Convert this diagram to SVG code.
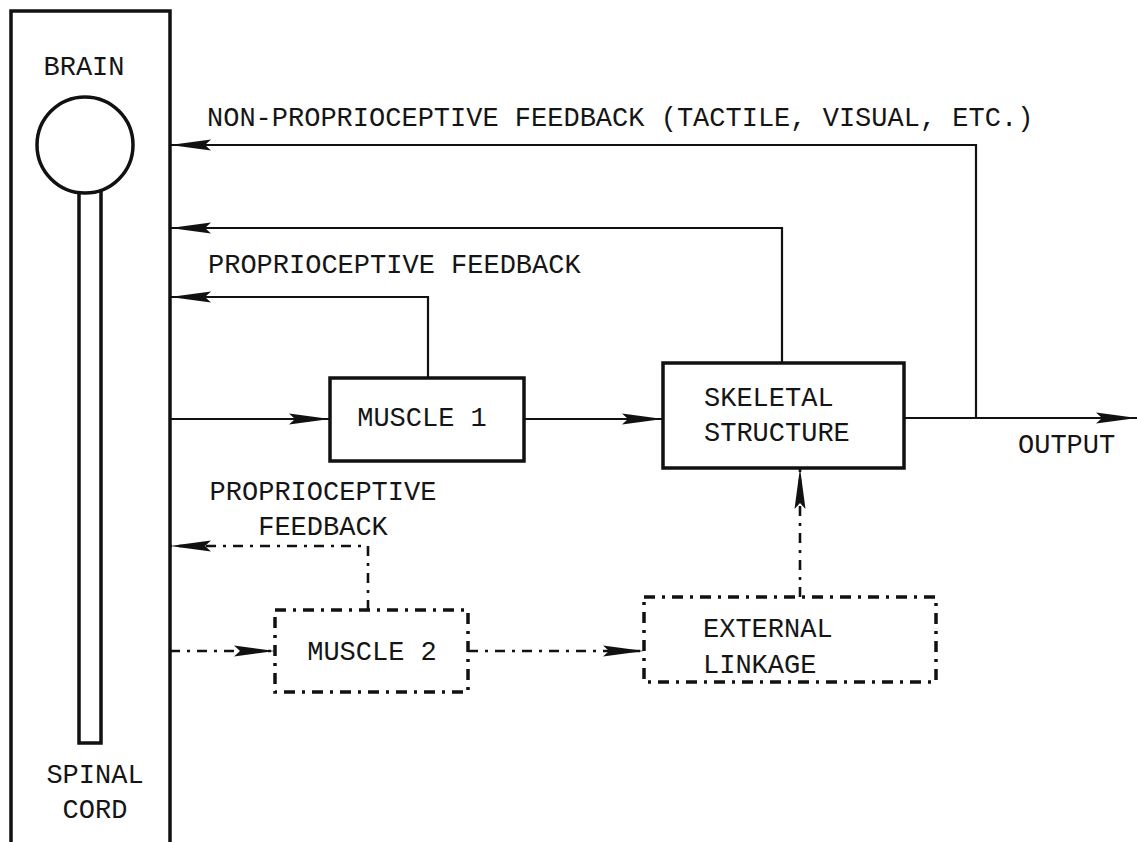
<svg xmlns="http://www.w3.org/2000/svg" width="1137" height="842" viewBox="0 0 1137 842">
  <style>
    .lbl { font-family: "Liberation Mono", "Courier New", monospace; font-size: 27px; fill: #151515; }
    .box { fill: none; stroke: #111; stroke-width: 3.5; }
    .dbox { fill: none; stroke: #111; stroke-width: 3.5; stroke-dasharray: 11 7 3 7; }
    .wire { fill: none; stroke: #111; stroke-width: 2.2; marker-end: url(#head); }
    .plain { fill: none; stroke: #111; stroke-width: 2.2; }
    .dwire { fill: none; stroke: #111; stroke-width: 2.6; stroke-dasharray: 10 7 3 7; marker-end: url(#head); }
  </style>
  <defs>
    <marker id="head" markerUnits="userSpaceOnUse" viewBox="0 -7 42 14" refX="41" refY="0" markerWidth="42" markerHeight="14" orient="auto">
      <path d="M0,-5.5 L41,0 L0,5.5 L6,0 Z" fill="#111"/>
    </marker>
  </defs>

  <!-- central nervous system column -->
  <g id="cns">
    <path class="box" d="M11,845 V11 H170 V845"/>
    <path class="box" d="M79,185 V743 H101 V185"/>
    <circle cx="85" cy="145" r="48" fill="#fff" stroke="#111" stroke-width="3.5"/>
    <text class="lbl" x="84" y="75" text-anchor="middle">BRAIN</text>
    <text class="lbl" x="95" y="783" text-anchor="middle">SPINAL</text>
    <text class="lbl" x="95" y="818" text-anchor="middle">CORD</text>
  </g>

  <g id="muscle1">
    <rect class="box" x="330" y="378" width="194" height="83"/>
    <text class="lbl" x="422" y="426" text-anchor="middle">MUSCLE 1</text>
  </g>

  <g id="skeletal">
    <rect class="box" x="663" y="363" width="241" height="105"/>
    <text class="lbl" x="704" y="406">SKELETAL</text>
    <text class="lbl" x="704" y="441">STRUCTURE</text>
  </g>

  <g id="muscle2">
    <rect class="dbox" x="275" y="610" width="193" height="82"/>
    <text class="lbl" x="372" y="660" text-anchor="middle">MUSCLE 2</text>
  </g>

  <g id="linkage">
    <rect class="dbox" x="644" y="597" width="292" height="85"/>
    <text class="lbl" x="703" y="637">EXTERNAL</text>
    <text class="lbl" x="703" y="673">LINKAGE</text>
  </g>

  <g id="connectors">
    <path class="wire" d="M976,418 V145 H170"/>
    <path class="wire" d="M782,363 V228 H170"/>
    <path class="wire" d="M428,378 V297 H170"/>
    <path class="wire" d="M170,419 H330"/>
    <path class="wire" d="M524,419 H663"/>
    <path class="wire" d="M904,418 H1137"/>
    <path class="dwire" d="M368,610 V546 H170"/>
    <path class="dwire" d="M170,651 H275"/>
    <path class="dwire" d="M468,651 H644"/>
    <path class="dwire" d="M800,597 V468"/>
  </g>

  <g id="labels">
    <text class="lbl" x="207" y="126">NON-PROPRIOCEPTIVE FEEDBACK (TACTILE, VISUAL, ETC.)</text>
    <text class="lbl" x="208" y="273">PROPRIOCEPTIVE FEEDBACK</text>
    <text class="lbl" x="323" y="500" text-anchor="middle">PROPRIOCEPTIVE</text>
    <text class="lbl" x="323" y="535" text-anchor="middle">FEEDBACK</text>
    <text class="lbl" x="1018" y="453">OUTPUT</text>
  </g>
</svg>
